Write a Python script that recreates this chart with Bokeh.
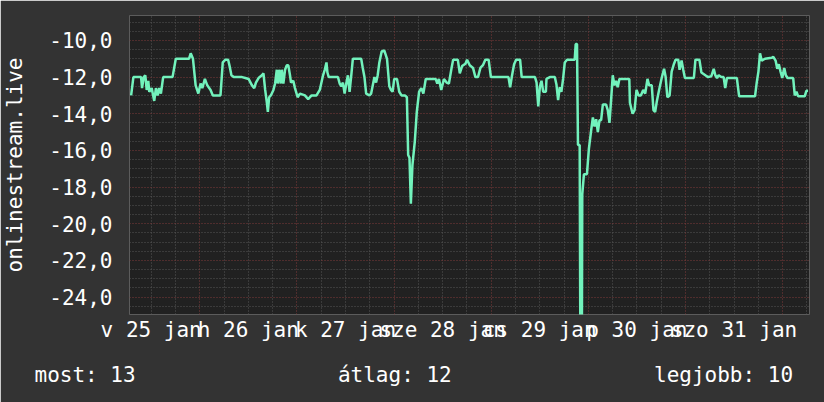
from bokeh.plotting import figure
from bokeh.models import Range1d, FixedTicker, Grid, CustomJSTickFormatter, ColumnDataSource, Title
from bokeh.embed import file_html
from bokeh.resources import INLINE

# ---- data -------------------------------------------------------------
# hours since 2015-01-25 00:00
hours = [
    7.04, 7.6, 9.5, 9.74, 10.15, 10.55, 10.89, 11.28, 11.53, 12.12, 12.75, 13.17, 13.59, 13.98, 14.4,
    14.96, 17.27, 18.08, 21.34, 21.76, 22.32, 22.98, 23.65, 24.21, 24.63, 25.27, 25.85, 26.67, 27.23,
    29.12, 29.68, 30.35, 31.01, 31.33, 31.82, 32.38, 34.44, 35.25, 36.06, 36.9, 37.46, 37.88, 38.52,
    39.35, 39.74, 40.16, 40.58, 40.82, 41.14, 41.56, 42.2, 42.61, 43.03, 43.27, 43.59, 44.01, 44.26,
    44.65, 45.07, 45.48, 45.88, 46.29, 46.54, 47.1, 47.52, 48.18, 48.75, 49.97, 50.78, 51.62, 52.84,
    53.65, 54.46, 54.88, 55.3, 55.54, 55.86, 58.14, 58.56, 58.98, 59.37, 59.79, 60.2, 60.6, 61.01,
    61.43, 61.82, 63.88, 64.27, 64.69, 65.11, 65.92, 66.34, 67.15, 67.56, 67.96, 68.37, 68.94, 69.6,
    70.26, 70.83, 71.25, 71.64, 72.05, 72.72, 73.28, 73.84, 74.68, 75.17, 75.49, 75.81, 76.15, 76.54,
    77.13, 77.62, 78.19, 78.75, 79.24, 79.83, 82.28, 82.68, 83.09, 83.66, 84.32, 84.98, 85.55, 86.21,
    86.6, 87.75, 88.24, 88.81, 89.64, 90.04, 90.7, 91.51, 92.1, 92.74, 93.33, 93.96, 94.55, 95.36,
    95.93, 100.27, 100.68, 101.08, 101.66, 102.16, 103.14, 103.53, 106.82, 107.21, 107.63, 108.04,
    108.43, 108.85, 109.51, 109.66, 110.5, 111.72, 112.12, 112.53, 112.95, 113.34, 113.76, 114.18,
    114.74, 116.63, 116.88, 117.2, 117.44, 117.86, 118.0, 118.42, 118.5, 118.91, 119.65, 120.14,
    120.7, 121.12, 121.54, 121.93, 122.35, 122.76, 123.16, 123.58, 124.38, 124.8, 125.22, 125.61,
    126.03, 126.45, 126.84, 127.25, 127.67, 130.12,
    130.27, 130.93, 131.42, 131.91, 132.4, 132.97, 133.56, 134.05, 134.61, 135.03, 135.67, 136.09,
    136.5, 136.9, 137.48, 138.12, 138.71, 139.1, 139.52, 140.08, 140.58, 141.17, 141.56, 142.22,
    142.54, 143.03, 143.45, 143.86, 146.07, 146.46, 147.44, 147.93, 148.91, 149.58, 150.39, 150.98,
    151.37, 151.79, 152.2, 152.84, 153.43, 153.82, 154.24, 156.69, 157.26, 161.18, 161.6, 162.02,
    162.41, 162.83, 163.64, 165.28, 165.7, 166.26, 166.68, 167.07, 167.49, 167.91, 168.4, 168.79,
    169.21, 170.61, 171.0, 171.42, 171.84, 173.45, 173.87, 174.28,
]
signal = [
    -13.0, -12.0, -12.0, -12.6, -12.0, -11.9, -12.7, -12.2, -12.8, -12.6, -13.3, -12.6, -13.0, -12.6, -12.9,
    -12.0, -12.0, -11.0, -11.0, -10.7, -11.0, -12.45, -12.9, -12.35, -12.6, -12.1, -12.45, -12.7, -13.0,
    -13.0, -11.2, -11.05, -11.05, -11.36, -11.9, -12.0, -12.0, -12.05, -12.1, -12.45, -12.6, -12.3, -12.05,
    -11.9, -11.8, -12.7, -13.4, -13.9, -13.1, -13.0, -12.7, -12.35, -11.6, -12.35, -11.6, -12.35, -11.6,
    -12.35, -11.6, -11.36, -11.36, -11.9, -12.3, -12.2, -12.6, -13.1, -12.9, -13.0, -13.2, -13.0, -13.0,
    -12.7, -11.9, -11.6, -11.2, -11.75, -12.0, -12.0, -12.35, -12.5, -12.3, -12.9, -12.35, -11.9, -12.8,
    -11.9, -11.0, -11.0, -11.5, -12.0, -12.9, -13.0, -12.9, -12.0, -12.3, -11.9, -11.2, -10.6, -10.55,
    -11.0, -12.5, -12.7, -12.8, -12.1, -12.1, -12.8, -13.0, -13.0, -13.1, -16.25, -16.4, -18.9, -16.8,
    -15.5, -13.9, -12.8, -12.6, -12.9, -12.1, -12.1, -12.35, -12.1, -12.7, -12.1, -12.3, -12.35, -11.5,
    -11.05, -11.05, -11.8, -11.4, -11.27, -11.05, -11.35, -11.5, -12.0, -12.0, -11.5, -11.35, -11.05, -11.05,
    -12.0, -12.0, -12.55, -12.0, -11.3, -11.05, -11.05, -12.0, -12.0, -12.3, -13.6, -12.5,
    -12.2, -12.8, -12.8, -12.1, -12.0, -12.0, -12.4, -13.26, -12.55, -12.8, -12.1, -11.2,
    -11.05, -11.05, -10.2, -10.2, -15.7, -15.7, -25.0, -25.0, -18.4, -17.3, -17.3, -15.9,
    -14.9, -14.2, -14.7, -14.3, -15.0, -14.35, -14.35, -13.5, -13.5, -13.8, -14.5, -13.3,
    -11.9, -12.45, -12.2, -12.55, -12.1, -12.1,
    -13.4, -14.0, -13.8, -12.7, -13.0, -13.0, -12.7, -12.9, -12.1, -12.45, -12.45, -13.8,
    -13.9, -13.35, -12.7, -12.05, -11.55, -12.0, -13.1, -13.0, -11.7, -11.27, -11.05, -11.05,
    -11.6, -11.1, -11.6, -12.05, -12.05, -11.05, -11.05, -11.75, -11.9, -12.0, -11.95, -11.55,
    -11.9, -12.05, -11.9, -12.0, -12.0, -12.6, -12.05, -12.05, -13.05, -13.05, -12.3, -11.7,
    -10.7, -11.1, -11.0, -10.95, -10.9, -11.1, -11.55, -11.3, -11.7, -12.05, -11.5, -11.9,
    -12.05, -12.05, -13.0, -12.8, -13.05, -13.05, -12.75, -12.75,
]
assert len(hours) == len(signal), (len(hours), len(signal))

day_labels = ["v 25 jan", "h 26 jan", "k 27 jan", "sze 28 jan", "cs 29 jan", "p 30 jan", "szo 31 jan"]
day_noons = [12, 36, 60, 84, 108, 132, 156]
day_starts = [24, 48, 72, 96, 120, 144, 168]
y_ticks = [-10, -12, -14, -16, -18, -20, -22, -24]
series_name = "onlinestream.live"
summary = ["most: 13", "átlag: 12", "legjobb: 10"]
summary_cols = [0, 24, 49]          # character columns of the monospaced summary line

# ---- style -------------------------------------------------------------
FONT = "DejaVu Sans Mono"
FS = "21px"
BG = "#333333"
CANVAS = "#212121"
LINE = "#72f2bc"
GRID_MINOR = "#565656"
GRID_MAJOR = "#7e3a3a"
TEXT = "#ffffff"

x0, x1 = 6.64, 174.64
y0, y1 = -24.95, -8.64

p = figure(width=824, height=402, output_backend="svg", toolbar_location=None,
           x_range=Range1d(x0, x1), y_range=Range1d(y0, y1))
p.min_border_left = 124
p.min_border_right = 15
p.min_border_top = 15
p.min_border_bottom = 87
p.background_fill_color = CANVAS
p.border_fill_color = BG
p.outline_line_color = None
p.xgrid.visible = False
p.ygrid.visible = False

minor_x = [h for h in range(12, 175, 6) if h % 24 != 0]
minor_y = [v / 2 for v in range(-50, -17) if v % 4 != 0]
for dim, ticks, col in ((0, minor_x, GRID_MINOR), (1, minor_y, GRID_MINOR),
                        (0, day_starts, GRID_MAJOR), (1, y_ticks, GRID_MAJOR)):
    p.add_layout(Grid(dimension=dim, ticker=FixedTicker(ticks=ticks), grid_line_color=col,
                      grid_line_dash="1 2", grid_line_width=1))

src = ColumnDataSource(data=dict(h=hours, v=signal))
p.line("h", "v", source=src, line_color=LINE, line_width=2.5)

xa = p.xaxis[0]
xa.ticker = FixedTicker(ticks=day_noons)
lab_js = "{" + ",".join(f'{n}:"{l}"' for n, l in zip(day_noons, day_labels)) + "}"
xa.formatter = CustomJSTickFormatter(code=f"var m={lab_js}; var k=Math.round(tick); return (k in m) ? m[k] : '';")
ya = p.yaxis[0]
ya.ticker = FixedTicker(ticks=y_ticks)
ya.formatter = CustomJSTickFormatter(code="return tick.toFixed(1).replace('.', ',');")
for ax in (xa, ya):
    ax.axis_line_color = None
    ax.major_tick_line_color = None
    ax.minor_tick_line_color = None
    ax.major_tick_out = 0
    ax.major_tick_in = 0
    ax.major_label_text_font = FONT
    ax.major_label_text_font_size = FS
    ax.major_label_text_color = TEXT
xa.major_label_standoff = 3
ya.major_label_standoff = 17

ya.axis_label = series_name
ya.axis_label_text_font = FONT
ya.axis_label_text_font_size = FS
ya.axis_label_text_font_style = "normal"
ya.axis_label_text_color = TEXT
ya.axis_label_standoff = 19

# summary line as one monospaced row (non-breaking spaces keep the columns)
line_txt = ""
for txt, col in zip(summary, summary_cols):
    line_txt += "\u00a0" * max(0, col - len(line_txt)) + txt
p.add_layout(Title(text=line_txt, align="left", offset=29 - 124, standoff=32,
                   text_font=FONT, text_font_size=FS, text_font_style="normal",
                   text_color=TEXT), "below")

open("out.html", "w").write(file_html(p, INLINE, title="onlinestream.live"))
